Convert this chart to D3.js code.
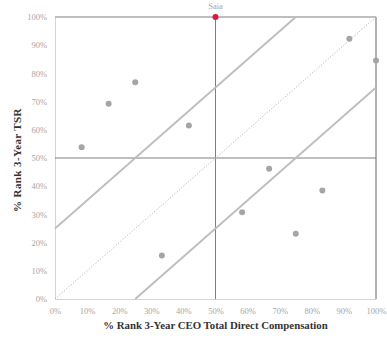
<!DOCTYPE html>
<html>
<head>
<meta charset="utf-8">
<script src="https://cdn.jsdelivr.net/npm/d3@7"></script>
<style>
  body { margin: 0; background: #fff; }
  svg { display: block; }
  text { font-family: "Liberation Serif", "Times New Roman", serif; }
</style>
</head>
<body>
<svg id="chart" width="387" height="339"></svg>
<script>
// Peer companies: percentile rank of CEO pay vs. percentile rank of 3-year TSR
const companies = ["Peer 1", "Peer 2", "Peer 3", "Peer 4", "Peer 5", "Saia", "Peer 7", "Peer 8", "Peer 9", "Peer 10", "Peer 11", "Peer 12"];
const payRank = [8.3, 16.7, 25.0, 33.3, 41.7, 50.0, 58.3, 66.7, 75.0, 83.3, 91.7, 100.0];
const tsrRank = [53.8, 69.2, 76.9, 15.4, 61.5, 100.0, 30.8, 46.2, 23.1, 38.5, 92.3, 84.6];
const highlight = "Saia";
const tickValues = [0, 10, 20, 30, 40, 50, 60, 70, 80, 90, 100];
// Alignment band: TSR rank within +/- 25 points of pay rank
const bandOffsets = [25, -25];

const svg = d3.select("#chart");
const m = { left: 55, right: 11, top: 17, bottom: 40 };
const W = 387, H = 339;

const x = d3.scaleLinear().domain([0, 100]).range([m.left, W - m.right]);
const y = d3.scaleLinear().domain([0, 100]).range([H - m.bottom, m.top]);

// Axes
const xAxis = svg.append("g")
  .attr("transform", `translate(0,${y(0)})`)
  .call(d3.axisBottom(x).tickValues(tickValues).tickSize(0).tickPadding(9).tickFormat(d => d + "%"));
const yAxis = svg.append("g")
  .attr("transform", `translate(${x(0)},0)`)
  .call(d3.axisLeft(y).tickValues(tickValues).tickSize(0).tickPadding(8).tickFormat(d => d + "%"));

[xAxis, yAxis].forEach(g => {
  g.attr("font-family", "'Liberation Serif', serif");
  g.select(".domain").attr("stroke", "#d4d4d4").attr("stroke-width", 1);
  g.selectAll("text").attr("fill", "#a6a6a6").attr("font-size", 8.5);
});

// Top and right frame
svg.append("line").attr("x1", x(0)).attr("x2", x(100)).attr("y1", y(100)).attr("y2", y(100))
  .attr("stroke", "#7f7f7f").attr("stroke-width", 1.2);
svg.append("line").attr("x1", x(100)).attr("x2", x(100)).attr("y1", y(100)).attr("y2", y(0))
  .attr("stroke", "#7f7f7f").attr("stroke-width", 1.2);

// Median cross-hairs
svg.append("line").attr("x1", x(0)).attr("x2", x(100)).attr("y1", y(50)).attr("y2", y(50))
  .attr("stroke", "#7f7f7f").attr("stroke-width", 1);
svg.append("line").attr("x1", x(50)).attr("x2", x(50)).attr("y1", y(100)).attr("y2", y(0))
  .attr("stroke", "#7f7f7f").attr("stroke-width", 1);

// Perfect alignment diagonal
svg.append("line").attr("x1", x(0)).attr("y1", y(0)).attr("x2", x(100)).attr("y2", y(100))
  .attr("stroke", "#b5b5b5").attr("stroke-width", 1).attr("stroke-dasharray", "1.2,1.8");

// Band edges
bandOffsets.forEach(off => {
  const x0 = Math.max(0, -off), x1 = Math.min(100, 100 - off);
  svg.append("line")
    .attr("x1", x(x0)).attr("y1", y(x0 + off))
    .attr("x2", x(x1)).attr("y2", y(x1 + off))
    .attr("stroke", "#bdbdbd").attr("stroke-width", 1.8);
});

// Points
const data = companies.map((c, i) => ({ name: c, px: payRank[i], ty: tsrRank[i] }));
svg.append("g").selectAll("circle").data(data).join("circle")
  .attr("cx", d => x(d.px)).attr("cy", d => y(d.ty))
  .attr("r", 3)
  .attr("fill", d => d.name === highlight ? "#e0143c" : "#a5a5a5");

// Highlight label
data.filter(d => d.name === highlight).forEach(d => {
  svg.append("text").attr("x", x(d.px)).attr("y", y(d.ty) - 8)
    .attr("text-anchor", "middle").attr("font-size", 8.5).attr("fill", "#a6a6a6").text(d.name);
});

// Axis titles
svg.append("text").attr("x", x(50)).attr("y", 329)
  .attr("text-anchor", "middle").attr("font-size", 10.8).attr("font-weight", "bold").attr("fill", "#333")
  .text("% Rank 3-Year CEO Total Direct Compensation");
svg.append("text").attr("transform", `translate(21,${y(50) + 2}) rotate(-90)`)
  .attr("text-anchor", "middle").attr("font-size", 11).attr("font-weight", "bold").attr("fill", "#333")
  .attr("letter-spacing", 0.4)
  .text("% Rank 3-Year TSR");
</script>
</body>
</html>
